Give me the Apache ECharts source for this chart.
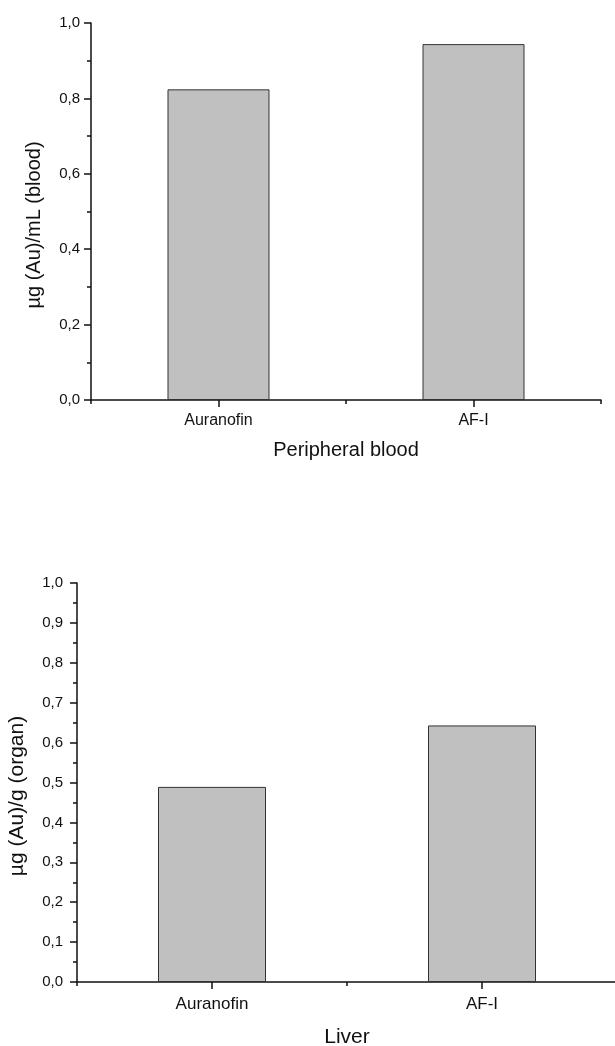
<!DOCTYPE html>
<html>
<head>
<meta charset="utf-8">
<script src="https://cdn.jsdelivr.net/npm/echarts@6/dist/echarts.min.js"></script>
<style>
  html, body { margin: 0; padding: 0; background: #fff; }
  #chart { width: 615px; height: 1046px; }
</style>
</head>
<body>
<div id="chart"></div>
<script>
// data
const categories = ['Auranofin', 'AF-I'];
const bloodValues = [0.824, 0.944];
const liverValues = [0.489, 0.643];
const bloodTicks = ['0,0', '0,2', '0,4', '0,6', '0,8', '1,0'];
const liverTicks = ['0,0', '0,1', '0,2', '0,3', '0,4', '0,5', '0,6', '0,7', '0,8', '0,9', '1,0'];

const font = '"Liberation Sans", Arial, sans-serif';
const ink = '#111';

function commaLabel(v) {
  return v.toFixed(1).replace('.', ',');
}

// main category axis: ticks on the bars (major ticks)
function catAxis(gridIndex, name, labelSize, nameSize, labelMargin, nameGap) {
  return {
    type: 'category',
    gridIndex: gridIndex,
    position: 'bottom',
    data: categories,
    boundaryGap: true,
    name: name,
    nameLocation: 'middle',
    nameGap: nameGap,
    nameTextStyle: { fontFamily: font, fontSize: nameSize, color: ink },
    axisLine: { show: true, lineStyle: { color: ink, width: 1.5 } },
    axisTick: { show: true, alignWithLabel: true, length: 7, lineStyle: { color: ink, width: 1.5 } },
    axisLabel: { fontFamily: font, fontSize: labelSize, color: ink, margin: labelMargin },
    splitLine: { show: false }
  };
}

// second axis on the same line, only for the short ticks between the bars
function boundaryAxis(gridIndex) {
  return {
    type: 'category',
    gridIndex: gridIndex,
    position: 'bottom',
    data: categories,
    boundaryGap: true,
    axisLine: { show: false },
    axisTick: { show: true, length: 4, lineStyle: { color: ink, width: 1.5 } },
    axisLabel: { show: false },
    splitLine: { show: false }
  };
}

function valAxis(gridIndex, name, interval, labelMargin, nameGap, nameSize, ticks) {
  return {
    type: 'value',
    gridIndex: gridIndex,
    min: 0,
    max: 1,
    interval: interval,
    name: name,
    nameLocation: 'middle',
    nameGap: nameGap,
    nameTextStyle: { fontFamily: font, fontSize: nameSize, color: ink, padding: [0, 27, 0, 0] },
    axisLine: { show: true, lineStyle: { color: ink, width: 1.5 } },
    axisTick: { show: true, length: 7, lineStyle: { color: ink, width: 1.5 } },
    minorTick: { show: true, splitNumber: 2, length: 4, lineStyle: { color: ink, width: 1.5 } },
    axisLabel: {
      fontFamily: font, fontSize: 15, color: ink, margin: labelMargin,
      formatter: function (v) {
        const i = Math.round(v / interval);
        return ticks[i] !== undefined ? ticks[i] : commaLabel(v);
      }
    },
    splitLine: { show: false }
  };
}

const barStyle = { color: '#c0c0c0', borderColor: '#333', borderWidth: 1 };

const chart = echarts.init(document.getElementById('chart'));
chart.setOption({
  backgroundColor: '#fff',
  animation: false,
  grid: [
    { left: 91, top: 23, width: 510, height: 377, outerBoundsMode: 'none' },
    { left: 77, top: 583, width: 540, height: 399, outerBoundsMode: 'none' }
  ],
  xAxis: [
    catAxis(0, 'Peripheral blood', 16, 20, 13, 40),
    boundaryAxis(0),
    catAxis(1, 'Liver', 17, 21, 14, 45),
    boundaryAxis(1)
  ],
  yAxis: [
    valAxis(0, 'µg (Au)/mL (blood)', 0.2, 11, 47, 20, bloodTicks),
    valAxis(1, 'µg (Au)/g (organ)', 0.1, 14, 49, 21, liverTicks)
  ],
  series: [
    {
      type: 'bar',
      xAxisIndex: 0,
      yAxisIndex: 0,
      barWidth: '40%',
      itemStyle: barStyle,
      data: bloodValues
    },
    {
      type: 'bar',
      xAxisIndex: 2,
      yAxisIndex: 1,
      barWidth: '40%',
      itemStyle: barStyle,
      data: liverValues
    }
  ]
});
</script>
</body>
</html>
